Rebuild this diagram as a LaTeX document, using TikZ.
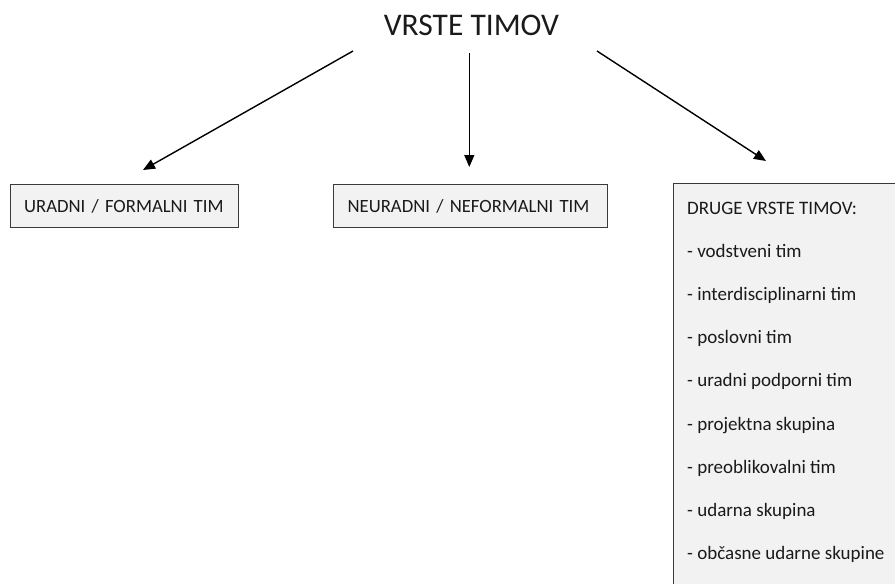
\documentclass[tikz,border=0pt]{standalone}
\usepackage{fontspec}
\setmainfont{Carlito}
\usetikzlibrary{arrows.meta}
\definecolor{boxfill}{HTML}{F2F2F2}
\definecolor{boxline}{HTML}{3A3A3A}
\definecolor{ink}{HTML}{1A1A1A}
\tikzset{
  typebox/.style={draw=boxline, line width=1.2pt, fill=boxfill, anchor=north west,
    inner xsep=14pt, inner ysep=0pt, align=left, text=ink,
    font=\fontsize{18.7}{23}\selectfont},
  listline/.style={anchor=base west, inner sep=0pt, text=ink, font=\fontsize{19}{23}\selectfont},
  conn/.style={line width=1.4pt, -{Triangle[length=12pt,width=10pt]}},
}
\begin{document}
\begin{tikzpicture}[x=1pt,y=-1pt]
\useasboundingbox (0,0) rectangle (895,584);
\clip (0,0) rectangle (895,584);
\node[font=\fontsize{31.5}{37}\selectfont, inner sep=0pt, anchor=base, text=ink] (title) at (471.5,35) {VRSTE TIMOV};

\node[typebox, text width=200pt, minimum height=43pt] (formal) at (9.5,184) {\mbox{URADNI / FORMALNI TIM}};
\node[typebox, text width=246pt, minimum height=43pt] (informal) at (333,184) {\mbox{NEURADNI / NEFORMALNI TIM}};
\node[typebox, minimum width=250pt, minimum height=430pt, inner xsep=0pt] (other) at (673,183) {};

\foreach \t [count=\i from 0] in {DRUGE VRSTE TIMOV:, - vodstveni tim, - interdisciplinarni tim, - poslovni tim, - uradni podporni tim, - projektna skupina, - preoblikovalni tim, - udarna skupina, - občasne udarne skupine}
  \node[listline] (l\i) at (687,{214+43.2*\i}) {\t};

\coordinate (s1) at (353,51);
\coordinate (e1) at (143,170);
\coordinate (s2) at (469.3,53);
\coordinate (e2) at (469.3,167);
\coordinate (s3) at (597,51);
\coordinate (e3) at (766,161);
\draw[conn] (s1) -- (e1);
\draw[conn] (s2) -- (e2);
\draw[conn] (s3) -- (e3);
\end{tikzpicture}
\end{document}
